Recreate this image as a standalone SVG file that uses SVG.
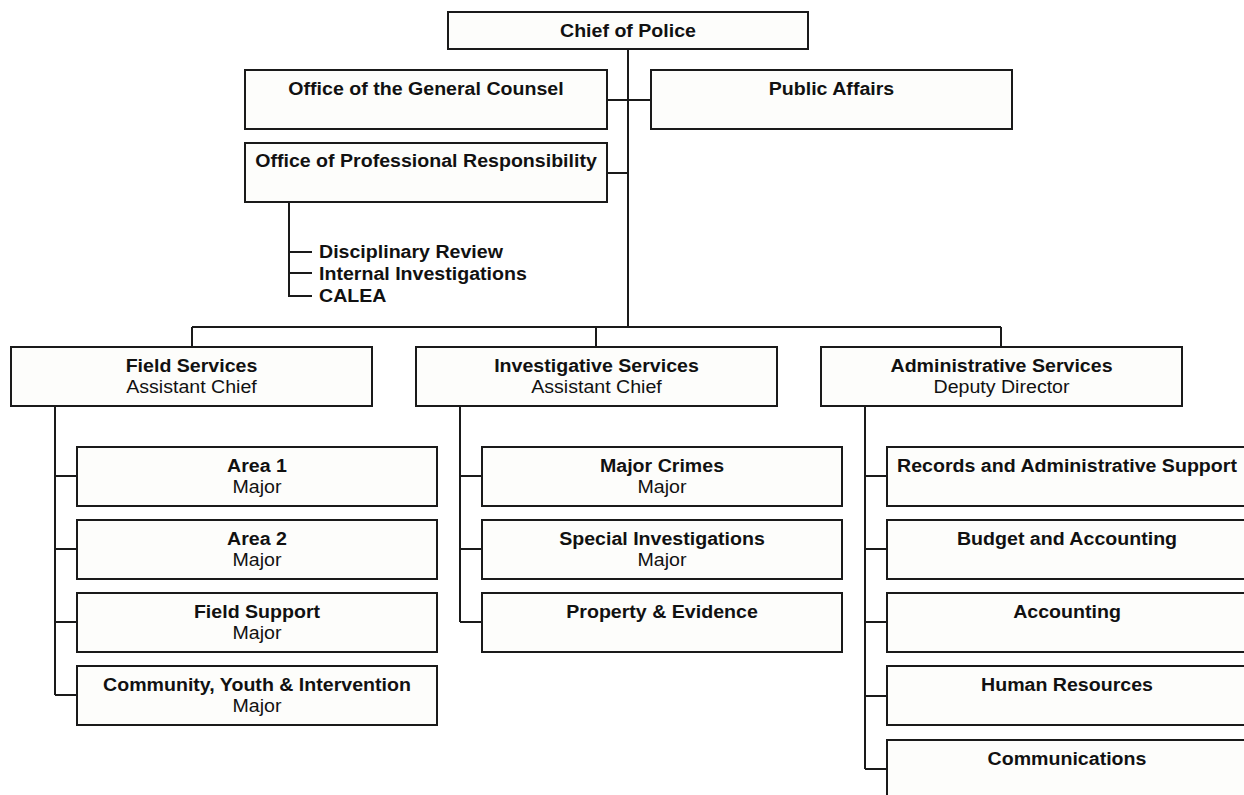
<svg xmlns="http://www.w3.org/2000/svg" width="1244" height="795" viewBox="0 0 1244 795">
  <style>
    .box { fill: #fdfdfb; stroke: #1a1a1a; stroke-width: 2; }
    .link { fill: none; stroke: #1a1a1a; stroke-width: 2; }
    .t { font-family: "Liberation Sans", Arial, sans-serif; font-size: 17.5px; fill: #111; text-anchor: middle; }
    .b { font-weight: bold; }
    .l { text-anchor: start; }
  </style>
  <rect width="1244" height="795" fill="#ffffff"/>

  <!-- connectors -->
  <g id="connectors">
    <path class="link" d="M628 49 V327"/>
    <path class="link" d="M607 100 H651"/>
    <path class="link" d="M607 173 H628"/>
    <path class="link" d="M289 202 V296 H312 M289 252 H312 M289 273 H312"/>
    <path class="link" d="M192 327 H1001 M192 327 V347 M596 327 V347 M1001 327 V347"/>
    <path class="link" d="M55 406 V695 M55 476 H77 M55 549 H77 M55 622 H77 M55 695 H77"/>
    <path class="link" d="M460 406 V622 M460 476 H482 M460 549 H482 M460 622 H482"/>
    <path class="link" d="M865 406 V769 M865 476 H887 M865 549 H887 M865 622 H887 M865 696 H887 M865 769 H887"/>
  </g>

  <g id="chief">
    <rect class="box" x="448" y="12" width="360" height="37"/>
    <text class="t b" transform="translate(628 36.5) scale(1.12 1)">Chief of Police</text>
  </g>

  <g id="general-counsel">
    <rect class="box" x="245" y="70" width="362" height="59"/>
    <text class="t b" transform="translate(426 94.5) scale(1.12 1)">Office of the General Counsel</text>
  </g>

  <g id="public-affairs">
    <rect class="box" x="651" y="70" width="361" height="59"/>
    <text class="t b" transform="translate(831.5 94.5) scale(1.12 1)">Public Affairs</text>
  </g>

  <g id="professional-responsibility">
    <rect class="box" x="245" y="143" width="362" height="59"/>
    <text class="t b" transform="translate(426 167) scale(1.12 1)">Office of Professional Responsibility</text>
  </g>

  <g id="opr-units">
    <text class="t b l" transform="translate(319 258) scale(1.12 1)">Disciplinary Review</text>
    <text class="t b l" transform="translate(319 280) scale(1.12 1)">Internal Investigations</text>
    <text class="t b l" transform="translate(319 301.5) scale(1.12 1)">CALEA</text>
  </g>

  <!-- bureaus -->
  <g id="field-services">
    <rect class="box" x="11" y="347" width="361" height="59"/>
    <text class="t b" transform="translate(191.5 372) scale(1.12 1)">Field Services</text>
    <text class="t" transform="translate(191.5 393) scale(1.12 1)">Assistant Chief</text>
  </g>

  <g id="investigative-services">
    <rect class="box" x="416" y="347" width="361" height="59"/>
    <text class="t b" transform="translate(596.5 372) scale(1.12 1)">Investigative Services</text>
    <text class="t" transform="translate(596.5 393) scale(1.12 1)">Assistant Chief</text>
  </g>

  <g id="administrative-services">
    <rect class="box" x="821" y="347" width="361" height="59"/>
    <text class="t b" transform="translate(1001.5 372) scale(1.12 1)">Administrative Services</text>
    <text class="t" transform="translate(1001.5 393) scale(1.12 1)">Deputy Director</text>
  </g>

  <!-- field services units -->
  <g id="area-1">
    <rect class="box" x="77" y="447" width="360" height="59"/>
    <text class="t b" transform="translate(257 472) scale(1.12 1)">Area 1</text>
    <text class="t" transform="translate(257 493) scale(1.12 1)">Major</text>
  </g>
  <g id="area-2">
    <rect class="box" x="77" y="520" width="360" height="59"/>
    <text class="t b" transform="translate(257 545) scale(1.12 1)">Area 2</text>
    <text class="t" transform="translate(257 566) scale(1.12 1)">Major</text>
  </g>
  <g id="field-support">
    <rect class="box" x="77" y="593" width="360" height="59"/>
    <text class="t b" transform="translate(257 618) scale(1.12 1)">Field Support</text>
    <text class="t" transform="translate(257 639) scale(1.12 1)">Major</text>
  </g>
  <g id="community-youth">
    <rect class="box" x="77" y="666" width="360" height="59"/>
    <text class="t b" transform="translate(257 691) scale(1.12 1)">Community, Youth &amp; Intervention</text>
    <text class="t" transform="translate(257 712) scale(1.12 1)">Major</text>
  </g>

  <!-- investigative units -->
  <g id="major-crimes">
    <rect class="box" x="482" y="447" width="360" height="59"/>
    <text class="t b" transform="translate(662 472) scale(1.12 1)">Major Crimes</text>
    <text class="t" transform="translate(662 493) scale(1.12 1)">Major</text>
  </g>
  <g id="special-investigations">
    <rect class="box" x="482" y="520" width="360" height="59"/>
    <text class="t b" transform="translate(662 545) scale(1.12 1)">Special Investigations</text>
    <text class="t" transform="translate(662 566) scale(1.12 1)">Major</text>
  </g>
  <g id="property-evidence">
    <rect class="box" x="482" y="593" width="360" height="59"/>
    <text class="t b" transform="translate(662 618) scale(1.12 1)">Property &amp; Evidence</text>
  </g>

  <!-- administrative units -->
  <g id="records">
    <rect class="box" x="887" y="447" width="362" height="59"/>
    <text class="t b" transform="translate(1067 472) scale(1.12 1)">Records and Administrative Support</text>
  </g>
  <g id="budget">
    <rect class="box" x="887" y="520" width="362" height="59"/>
    <text class="t b" transform="translate(1067 545) scale(1.12 1)">Budget and Accounting</text>
  </g>
  <g id="accounting">
    <rect class="box" x="887" y="593" width="362" height="59"/>
    <text class="t b" transform="translate(1067 618) scale(1.12 1)">Accounting</text>
  </g>
  <g id="human-resources">
    <rect class="box" x="887" y="666" width="362" height="59"/>
    <text class="t b" transform="translate(1067 691) scale(1.12 1)">Human Resources</text>
  </g>
  <g id="communications">
    <rect class="box" x="887" y="740" width="362" height="59"/>
    <text class="t b" transform="translate(1067 765) scale(1.12 1)">Communications</text>
  </g>
</svg>
